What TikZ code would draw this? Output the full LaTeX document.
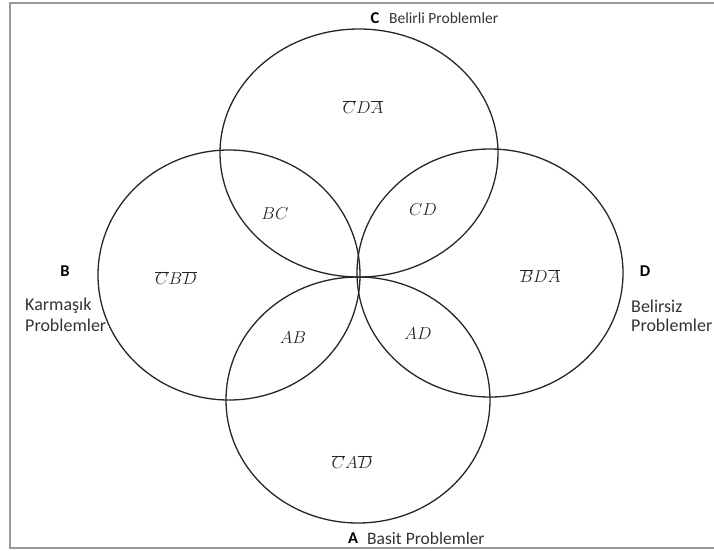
\documentclass[tikz,border=0pt]{standalone}
\usepackage{fontspec}
\setmainfont{Carlito}
\begin{document}
\begin{tikzpicture}[x=1pt,y=-1pt,
  set/.style={draw=black!85, line width=1.3pt},
  frame/.style={draw=black!40, line width=1.4pt},
  tag/.style={font=\fontsize{#1}{19}\selectfont\color{black!80}, inner sep=0pt},
  tag/.default=16.5,
  letter/.style={font=\fontsize{16.5}{19}\selectfont\bfseries, inner sep=0pt},
  region/.style={font=\fontsize{17}{19}\selectfont\color{black!85}, inner sep=0pt}]
\useasboundingbox (0,0) rectangle (714,550);
\draw[frame] (10,3) rectangle (720,548);

% the four sets
\draw[set] (359,153) ellipse [x radius=139, y radius=124];
\draw[set] (229,275) ellipse [x radius=131, y radius=125];
\draw[set] (490,273) ellipse [x radius=133, y radius=124];
\draw[set] (358,400) ellipse [x radius=132, y radius=123];

% set names
\node[letter] (lc) at (375,18) {C};
\node[tag=15.5, anchor=west] (tc) at (389,18) {Belirli Problemler};
\node[letter] (lb) at (65,271) {B};
\node[tag=18, anchor=west] (tb1) at (25,306) {Karmaşık};
\node[tag=18, anchor=west] (tb2) at (25,325) {Problemler};
\node[letter] (ld) at (645,271) {D};
\node[tag=18, anchor=west] (td1) at (631,306) {Belirsiz};
\node[tag=18, anchor=west] (td2) at (631,325) {Problemler};
\node[letter] (la) at (353,538) {A};
\node[tag=17.5, anchor=west] (ta) at (367,538) {Basit Problemler};

% region labels
\node[region] (rcda) at (363,107) {$\overline{C}D\overline{A}$};
\node[region] (rbc) at (275,214) {$BC$};
\node[region] (rcd) at (423,210) {$CD$};
\node[region] (rcbd) at (176,278) {$\overline{C}B\overline{D}$};
\node[region] (rbda) at (540,276) {$\overline{B}D\overline{A}$};
\node[region] (rab) at (293,338) {$AB$};
\node[region] (rad) at (418,334) {$AD$};
\node[region] (rcad) at (352,462) {$\overline{C}A\overline{D}$};
\end{tikzpicture}
\end{document}
